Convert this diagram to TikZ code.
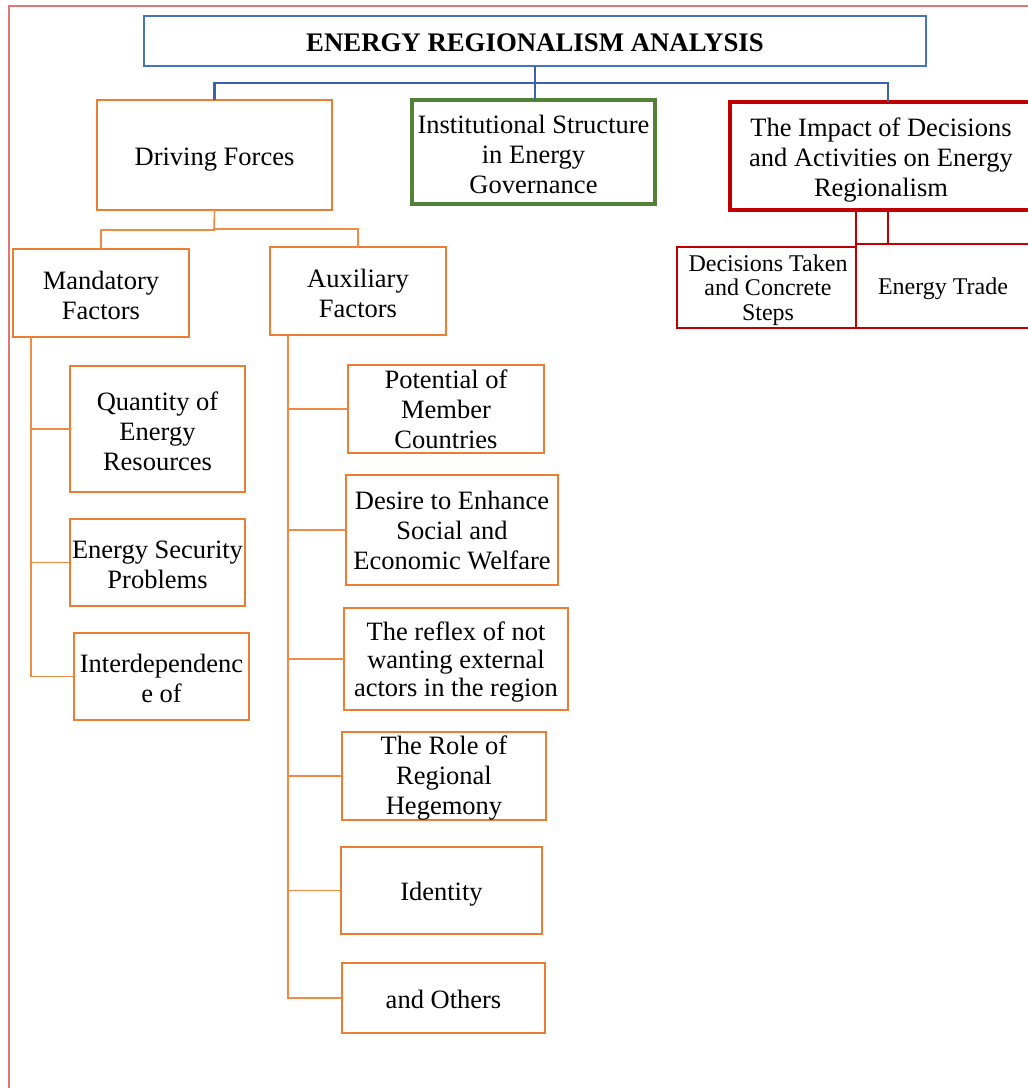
\documentclass[tikz,border=0pt]{standalone}
\usepackage{fontspec}
\setmainfont{Liberation Serif}
\newcommand\mainsz{\fontsize{26.5}{30}\selectfont}
\newcommand\smallsz{\fontsize{24}{24.5}\selectfont}
\newcommand\titlesz{\fontsize{26.8}{30}\selectfont\bfseries}
\definecolor{cOrange}{HTML}{ED7D31}
\definecolor{cOrangeL}{HTML}{F08A45}
\definecolor{cBlue}{HTML}{4472C4}
\definecolor{cBlueD}{HTML}{3A62AE}
\definecolor{cGreen}{HTML}{548235}
\definecolor{cRed}{HTML}{C00000}
\definecolor{cFrame}{HTML}{E07575}
\tikzset{
  box/.style={draw, rectangle, inner sep=0pt, outer sep=0pt},
  obox/.style={box, draw=cOrange, line width=2.5pt},
  txt/.style={inner sep=0pt, align=center, font=\mainsz, text=black},
  oline/.style={draw=cOrangeL, line width=1.6pt},
  bline/.style={draw=cBlueD, line width=2.5pt},
  rline/.style={draw=cRed, line width=2.5pt},
}
\begin{document}
\begin{tikzpicture}[x=1pt, y=-1pt]
\fill[white] (0,0) rectangle (1028,1088);
\useasboundingbox (0,0) rectangle (1028,1088);
% frame
\draw[cFrame, line width=1.5pt] (9,1100) -- (9,6) -- (1040,6);

% top level boxes
\node[box, draw=cBlue, line width=2.5pt, minimum width=782, minimum height=50] (title) at (535,41) {};
\node[obox, minimum width=235, minimum height=110] (driving) at (214.5,155) {};
\node[box, draw=cGreen, line width=3.5pt, minimum width=243, minimum height=104] (inst) at (533.5,152) {};
\node[box, draw=cRed, line width=3.5pt, minimum width=302, minimum height=108] (impact) at (881,156) {};
% red children
\node[box, draw=cRed, line width=2.5pt, minimum width=179, minimum height=81] (dec) at (766.5,287.5) {};
\node[box, draw=cRed, line width=2.5pt, minimum width=174, minimum height=84] (trade) at (943,286) {};
% second level
\node[obox, minimum width=176, minimum height=88] (mand) at (101,293) {};
\node[obox, minimum width=176, minimum height=88] (aux) at (358,291) {};
% mandatory children
\node[obox, minimum width=175, minimum height=126] (quant) at (157.5,429) {};
\node[obox, minimum width=175, minimum height=87] (secur) at (157.5,562.5) {};
\node[obox, minimum width=175, minimum height=87] (interd) at (161.5,676.5) {};
% auxiliary children
\node[obox, minimum width=196, minimum height=88] (potent) at (446,409) {};
\node[obox, minimum width=212, minimum height=110] (desire) at (452,530) {};
\node[obox, minimum width=224, minimum height=102] (reflex) at (456,659) {};
\node[obox, minimum width=204, minimum height=88] (role) at (444,776) {};
\node[obox, minimum width=201, minimum height=87] (ident) at (441.5,890.5) {};
\node[obox, minimum width=203, minimum height=70] (others) at (443.5,998) {};

% texts
\node[txt, font=\titlesz] (titlet) at ([yshift=-2pt]title.center) {ENERGY REGIONALISM ANALYSIS};
\node[txt] (drivingt) at ([yshift=-5pt]driving.center) {Driving Forces};
\node[txt] (instt) at ([yshift=-2pt]inst.center) {Institutional Structure\\in Energy\\Governance};
\node[txt] (impactt) at ([yshift=-4.5pt]impact.center) {The Impact of Decisions\\and Activities on Energy\\Regionalism};
\node[txt, font=\smallsz] (dect) at ([xshift=1.5pt,yshift=-2.5pt]dec.center) {Decisions Taken\\and Concrete\\Steps};
\node[txt, font=\smallsz] (tradet) at ([yshift=-2.5pt]trade.center) {Energy Trade};
\node[txt] (mandt) at ([yshift=-2pt]mand.center) {Mandatory\\Factors};
\node[txt] (auxt) at ([yshift=-2pt]aux.center) {Auxiliary\\Factors};
\node[txt] (quantt) at ([yshift=-2pt]quant.center) {Quantity of\\Energy\\Resources};
\node[txt] (secart) at ([yshift=-2pt]secur.center) {Energy Security\\Problems};
\node[txt] (interdt) at ([yshift=-2pt]interd.center) {Interdependenc\\e of};
\node[txt] (potentt) at ([yshift=-0.5pt]potent.center) {Potential of\\Member\\Countries};
\node[txt] (desiret) at ([yshift=-0.5pt]desire.center) {Desire to Enhance\\Social and\\Economic Welfare};
\node[txt, font=\fontsize{26.5}{28}\selectfont] (reflext) at ([yshift=-3pt]reflex.center) {The reflex of not\\wanting external\\actors in the region};
\node[txt] (rolet) at ([yshift=-2.5pt]role.center) {The Role of\\Regional\\Hegemony};
\node[txt] (identt) at ([yshift=-4pt]ident.center) {Identity};
\node[txt] (otherst) at ([yshift=-1pt]others.center) {and Others};

% blue connectors
\coordinate (bj) at (535,83);
\draw[bline] (title.south) -- (title.south |- inst.north);
\draw[bline] (driving.north) |- (bj) -| (impact.north -| 888,0);

% red connectors
\draw[rline] (impact.south -| 856,0) -- (trade.north west);
\draw[rline] (impact.south -| 888,0) -- (trade.north -| 888,0);

% orange connectors from driving forces
\coordinate (dj) at (214,230);
\draw[oline] (driving.south) -- (dj) -| (mand.north);
\draw[oline] (dj) ++(0,-1) -| (aux.north);

% mandatory trunk
\draw[oline] (mand.south -| 31,0) |- (interd.west);
\draw[oline] (quant.west) -- (quant.west -| 31,0);
\draw[oline] (secur.west) -- (secur.west -| 31,0);

% auxiliary trunk
\draw[oline] (aux.south -| 288,0) |- (others.west);
\draw[oline] (potent.west) -- (potent.west -| 288,0);
\draw[oline] (desire.west) -- (desire.west -| 288,0);
\draw[oline] (reflex.west) -- (reflex.west -| 288,0);
\draw[oline] (role.west) -- (role.west -| 288,0);
\draw[oline] (ident.west) -- (ident.west -| 288,0);
\end{tikzpicture}
\end{document}
